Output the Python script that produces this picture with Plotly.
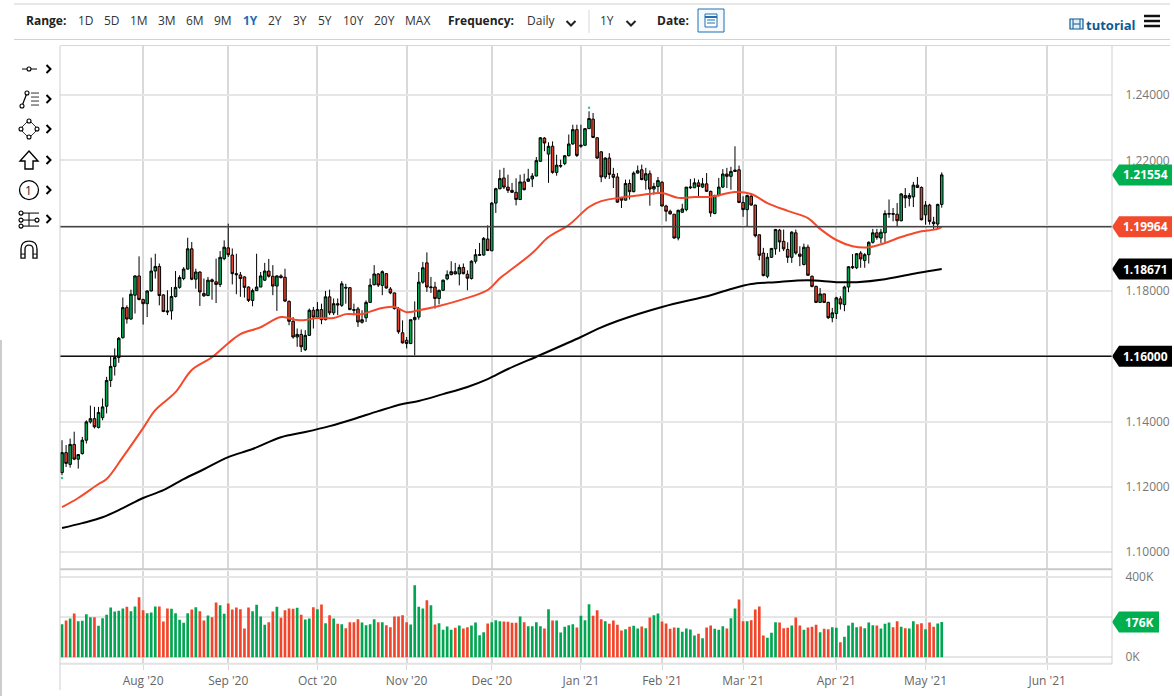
import plotly.graph_objects as go

W, H = 1174, 696
GREEN = "#00a651"
RED = "#e5432a"
TAG_GREEN = "#00b050"
TAG_RED = "#f24a2c"
GRID = "#e6e6e6"
VGRID = "#d9d9d9"
BLUE = "#0b5a94"

# daily candles, one per trading day, Jul 6 2020 .. May 7 2021
opens = [1.1244,1.1305,1.1269,1.1330,1.1285,1.1302,1.1343,1.1399,1.1409,1.1382,
 1.1412,1.1447,1.1526,1.1569,1.1596,1.1657,1.1749,1.1714,1.1787,1.1846,
 1.1774,1.1761,1.1800,1.1861,1.1875,1.1788,1.1739,1.1739,1.1783,1.1811,
 1.1838,1.1867,1.1929,1.1836,1.1858,1.1792,1.1786,1.1834,1.1828,1.1820,
 1.1899,1.1932,1.1910,1.1853,1.1849,1.1843,1.1812,1.1771,1.1801,1.1812,
 1.1833,1.1861,1.1845,1.1815,1.1846,1.1842,1.1768,1.1707,1.1659,1.1667,
 1.1620,1.1664,1.1741,1.1720,1.1743,1.1712,1.1782,1.1733,1.1761,1.1756,
 1.1811,1.1810,1.1743,1.1745,1.1704,1.1718,1.1765,1.1819,1.1852,1.1817,
 1.1853,1.1806,1.1794,1.1746,1.1672,1.1649,1.1639,1.1712,1.1720,1.1827,
 1.1886,1.1810,1.1812,1.1777,1.1802,1.1837,1.1850,1.1859,1.1852,1.1872,
 1.1851,1.1838,1.1891,1.1909,1.1910,1.1959,1.1923,1.2069,1.2113,1.2146,
 1.2118,1.2108,1.2102,1.2080,1.2134,1.2136,1.2143,1.2152,1.2197,1.2268,
 1.2219,1.2243,1.2163,1.2182,1.2190,1.2214,1.2250,1.2294,1.2243,1.2246,
 1.2297,1.2326,1.2269,1.2226,1.2149,1.2207,1.2157,1.2149,1.2086,1.2078,
 1.2129,1.2104,1.2161,1.2171,1.2139,1.2159,1.2112,1.2120,1.2133,1.2060,
 1.2044,1.2035,1.1962,1.2041,1.2049,1.2116,1.2116,1.2131,1.2118,1.2128,
 1.2105,1.2037,1.2092,1.2118,1.2158,1.2151,1.2166,1.2171,1.2071,1.2049,
 1.2090,1.2063,1.1972,1.1916,1.1845,1.1903,1.1929,1.1986,1.1952,1.1927,
 1.1903,1.1978,1.1913,1.1881,1.1934,1.1845,1.1814,1.1765,1.1791,1.1765,
 1.1718,1.1731,1.1776,1.1758,1.1812,1.1871,1.1871,1.1916,1.1893,1.1911,
 1.1949,1.1978,1.1962,1.1978,1.2035,1.2037,1.2035,1.2015,1.2092,1.2084,
 1.2088,1.2124,1.2117,1.2033,1.2063,1.2011,1.2005,1.2065]
closes = [1.1305,1.1272,1.1330,1.1285,1.1299,1.1343,1.1399,1.1409,1.1384,1.1428,
 1.1445,1.1526,1.1569,1.1596,1.1655,1.1749,1.1714,1.1790,1.1846,1.1774,
 1.1761,1.1800,1.1861,1.1875,1.1786,1.1737,1.1736,1.1783,1.1811,1.1841,
 1.1867,1.1929,1.1836,1.1858,1.1797,1.1785,1.1833,1.1829,1.1820,1.1903,
 1.1934,1.1911,1.1853,1.1850,1.1838,1.1811,1.1771,1.1801,1.1812,1.1846,
 1.1861,1.1845,1.1815,1.1846,1.1841,1.1769,1.1707,1.1659,1.1667,1.1629,
 1.1664,1.1741,1.1720,1.1743,1.1712,1.1782,1.1733,1.1761,1.1757,1.1822,
 1.1809,1.1743,1.1741,1.1705,1.1712,1.1765,1.1818,1.1852,1.1818,1.1859,
 1.1809,1.1794,1.1746,1.1675,1.1641,1.1639,1.1712,1.1719,1.1827,1.1871,
 1.1812,1.1812,1.1777,1.1802,1.1833,1.1850,1.1859,1.1852,1.1872,1.1853,
 1.1839,1.1891,1.1911,1.1911,1.1961,1.1924,1.2069,1.2113,1.2144,1.2118,
 1.2108,1.2102,1.2080,1.2134,1.2110,1.2143,1.2152,1.2199,1.2269,1.2253,
 1.2243,1.2163,1.2185,1.2184,1.2214,1.2250,1.2294,1.2215,1.2246,1.2297,
 1.2328,1.2270,1.2207,1.2149,1.2207,1.2157,1.2148,1.2072,1.2078,1.2129,
 1.2104,1.2161,1.2168,1.2141,1.2159,1.2112,1.2120,1.2138,1.2060,1.2044,
 1.2036,1.1962,1.2047,1.2051,1.2118,1.2118,1.2131,1.2120,1.2128,1.2105,
 1.2039,1.2092,1.2118,1.2158,1.2151,1.2166,1.2170,1.2071,1.2049,1.2092,
 1.2063,1.1969,1.1909,1.1847,1.1903,1.1930,1.1988,1.1950,1.1929,1.1903,
 1.1980,1.1916,1.1906,1.1934,1.1848,1.1814,1.1765,1.1791,1.1765,1.1718,
 1.1733,1.1779,1.1760,1.1812,1.1874,1.1874,1.1914,1.1898,1.1911,1.1949,
 1.1978,1.1964,1.1980,1.2037,1.2037,1.2035,1.2015,1.2097,1.2085,1.2092,
 1.2124,1.2117,1.2018,1.2063,1.2013,1.2006,1.2065,1.21554]
highs = [1.1343,1.1328,1.1348,1.1369,1.1300,1.1353,1.1404,1.1449,1.1445,1.1445,
 1.1471,1.1537,1.1600,1.1624,1.1659,1.1780,1.1756,1.1804,1.1848,1.1906,
 1.1776,1.1802,1.1902,1.1914,1.1884,1.1790,1.1802,1.1812,1.1861,1.1848,
 1.1873,1.1963,1.1950,1.1868,1.1860,1.1838,1.1843,1.1838,1.1899,1.1922,
 1.1955,1.2006,1.1930,1.1914,1.1858,1.1845,1.1814,1.1807,1.1914,1.1858,
 1.1886,1.1898,1.1879,1.1848,1.1851,1.1868,1.1771,1.1720,1.1685,1.1682,
 1.1680,1.1746,1.1751,1.1766,1.1761,1.1800,1.1804,1.1777,1.1777,1.1830,
 1.1822,1.1812,1.1761,1.1751,1.1741,1.1771,1.1838,1.1879,1.1855,1.1863,
 1.1855,1.1812,1.1795,1.1751,1.1710,1.1659,1.1712,1.1768,1.1858,1.1889,
 1.1918,1.1843,1.1828,1.1804,1.1835,1.1863,1.1891,1.1886,1.1881,1.1884,
 1.1863,1.1894,1.1928,1.1947,1.1965,1.2001,1.2072,1.2116,1.2171,1.2177,
 1.2156,1.2131,1.2145,1.2156,1.2159,1.2174,1.2161,1.2210,1.2271,1.2271,
 1.2255,1.2258,1.2217,1.2202,1.2216,1.2279,1.2309,1.2309,1.2309,1.2299,
 1.2350,1.2345,1.2271,1.2228,1.2209,1.2222,1.2177,1.2161,1.2088,1.2141,
 1.2141,1.2166,1.2184,1.2187,1.2177,1.2169,1.2131,1.2149,1.2136,1.2064,
 1.2049,1.2035,1.2049,1.2067,1.2118,1.2143,1.2145,1.2141,1.2146,1.2161,
 1.2107,1.2095,1.2146,1.2173,1.2177,1.2180,1.2243,1.2184,1.2090,1.2095,
 1.2100,1.2064,1.1973,1.1932,1.1916,1.1932,1.1990,1.1990,1.1988,1.1949,
 1.1983,1.1988,1.1937,1.1945,1.1942,1.1847,1.1816,1.1809,1.1792,1.1767,
 1.1748,1.1782,1.1784,1.1816,1.1876,1.1913,1.1916,1.1922,1.1916,1.1952,
 1.1990,1.1990,1.1990,1.2047,1.2080,1.2054,1.2069,1.2100,1.2115,1.2100,
 1.2134,1.2149,1.2120,1.2075,1.2067,1.2027,1.2067,1.2163]
lows = [1.1236,1.1261,1.1259,1.1282,1.1256,1.1299,1.1333,1.1394,1.1379,1.1379,
 1.1404,1.1425,1.1506,1.1541,1.1580,1.1654,1.1700,1.1712,1.1731,1.1771,
 1.1697,1.1720,1.1798,1.1838,1.1756,1.1735,1.1726,1.1712,1.1780,1.1807,
 1.1833,1.1865,1.1833,1.1807,1.1754,1.1782,1.1784,1.1773,1.1763,1.1812,
 1.1894,1.1904,1.1820,1.1790,1.1782,1.1780,1.1766,1.1753,1.1800,1.1812,
 1.1831,1.1841,1.1787,1.1739,1.1838,1.1766,1.1695,1.1654,1.1629,1.1613,
 1.1616,1.1662,1.1685,1.1715,1.1698,1.1710,1.1726,1.1726,1.1726,1.1751,
 1.1761,1.1741,1.1726,1.1690,1.1700,1.1705,1.1763,1.1817,1.1812,1.1787,
 1.1807,1.1790,1.1743,1.1669,1.1639,1.1624,1.1637,1.1603,1.1712,1.1822,
 1.1797,1.1794,1.1746,1.1759,1.1800,1.1833,1.1848,1.1851,1.1817,1.1851,
 1.1802,1.1835,1.1884,1.1908,1.1908,1.1922,1.1922,1.2039,1.2111,1.2112,
 1.2100,1.2100,1.2062,1.2078,1.2108,1.2134,1.2118,1.2151,1.2195,1.2228,
 1.2131,1.2159,1.2153,1.2177,1.2185,1.2212,1.2248,1.2210,1.2238,1.2245,
 1.2296,1.2268,1.2204,1.2133,1.2143,1.2143,1.2115,1.2070,1.2054,1.2077,
 1.2080,1.2102,1.2159,1.2139,1.2110,1.2061,1.2095,1.2100,1.2059,1.2013,
 1.2034,1.1960,1.1955,1.2039,1.2044,1.2112,1.2115,1.2085,1.2115,1.2103,
 1.2027,1.2035,1.2090,1.2115,1.2115,1.2110,1.2164,1.2069,1.2027,1.1996,
 1.2061,1.1964,1.1894,1.1845,1.1839,1.1901,1.1911,1.1920,1.1922,1.1886,
 1.1886,1.1911,1.1876,1.1878,1.1847,1.1811,1.1763,1.1763,1.1763,1.1714,
 1.1704,1.1714,1.1743,1.1738,1.1796,1.1867,1.1867,1.1871,1.1871,1.1884,
 1.1945,1.1957,1.1947,1.1945,1.2024,1.2013,1.1996,1.2013,1.2054,1.2059,
 1.2057,1.2115,1.2016,1.2003,1.2003,1.1988,1.1990,1.2055]
# volume in thousands
volumes = [165,183,193,218,180,182,215,200,200,157,
 195,212,248,228,232,243,252,230,253,300,
 235,220,223,253,253,178,243,242,220,187,
 172,220,238,250,230,183,208,200,273,260,
 217,268,238,248,240,143,248,230,262,203,
 162,175,228,252,197,235,243,242,247,212,
 188,193,250,240,263,170,210,193,167,165,
 145,175,175,190,173,160,165,190,175,175,
 160,150,203,203,210,175,163,360,252,243,
 285,260,163,170,137,153,137,147,158,143,
 150,158,173,110,125,168,175,185,180,
 178,177,172,172,203,175,155,155,175,155,
 143,240,183,183,123,152,160,165,148,207,
 185,265,207,235,190,180,167,183,162,133,
 140,152,157,143,153,145,198,210,218,178,
 168,142,148,147,127,143,138,108,117,95,
 148,158,142,137,155,143,195,243,288,180,
 180,185,238,253,108,97,122,175,173,145,
 147,158,198,158,137,148,152,162,125,142,
 140,150,147,75,102,158,172,150,153,145,
 173,160,158,143,167,173,150,180,152,145,
 143,180,165,170,140,173,152,168,176]

# moving averages read at a set of trading days
ma50_days = [0,4,9,11,15,20,23,28,32,37,41,44,49,54,58,60,63,67,70,74,78,82,85,88,93,99,105,108,110,116,120,125,130,133,139,143,148,152,156,160,166,170,174,179,184,187,191,195,199,203,207,211,216,217]
ma50 = [1.1138,1.1166,1.1209,1.1224,1.1291,1.1380,1.1435,1.1490,1.1558,1.1597,1.1640,1.1668,1.1689,1.1720,1.1711,1.1711,1.1717,1.1717,1.1729,1.1729,1.1745,1.1751,1.1735,1.1741,1.1754,1.1775,1.1803,1.1839,1.1858,1.1916,1.1965,1.2002,1.2057,1.2075,1.2088,1.2094,1.2100,1.2085,1.2088,1.2088,1.2103,1.2097,1.2069,1.2045,1.2023,1.1990,1.1956,1.1937,1.1934,1.1947,1.1965,1.1980,1.1990,1.19964]
ma200_days = [0,5,10,15,20,25,30,35,41,47,54,60,66,72,78,84,88,94,100,105,110,118,128,132,137,148,160,165,170,176,184,191,196,203,211,217]
ma200 = [1.1074,1.1089,1.1107,1.1135,1.1166,1.1190,1.1224,1.1254,1.1291,1.1316,1.1352,1.1368,1.1386,1.1408,1.1432,1.1454,1.1463,1.1484,1.1506,1.1530,1.1561,1.1604,1.1659,1.1683,1.1708,1.1751,1.1787,1.1806,1.1821,1.1827,1.1833,1.1827,1.1827,1.1836,1.1855,1.18671]

month_days = [20,41,63,85,106,128,148,168,191,213,243]
month_labels = ["Aug '20","Sep '20","Oct '20","Nov '20","Dec '20","Jan '21","Feb '21","Mar '21","Apr '21","May '21","Jun '21"]
price_ticks = [1.10,1.12,1.14,1.16,1.18,1.20,1.22,1.24]
# the 1.16 and 1.20 labels sit behind the flags in the original
price_labels = ["1.10000","1.12000","1.14000","","1.18000","","1.22000","1.24000"]

# small teal marks on the first bar and the top bar
mark_days = [0,130]
mark_prices = [1.1227,1.2361]

days = list(range(len(opens)))
vol_colors = [GREEN if c >= o else "#f2462c" for o, c in zip(opens, closes)]


def px(x):
    return x / W


def py(y):
    # small correction, the first render came out squeezed towards the bottom
    return 1 - ((y - 3) / 0.9939) / H


def line_shape(x0, y0, x1, y1, color="#000000", width=1):
    return dict(type="line", xref="paper", yref="paper", x0=px(x0), y0=py(y0), x1=px(x1), y1=py(y1),
                line=dict(color=color, width=width), layer="above")


def poly(points, close=False, color="#000000", width=1.2, fill=None):
    d = "M " + " L ".join(f"{px(a):.5f},{py(b):.5f}" for a, b in points)
    if close:
        d += " Z"
    s = dict(type="path", xref="paper", yref="paper", path=d, line=dict(color=color, width=width))
    if fill:
        s["fillcolor"] = fill
    return s


def ring(cx, cy, r, color="#000000", width=1.1, fill="#ffffff"):
    return dict(type="circle", xref="paper", yref="paper", x0=px(cx - r), x1=px(cx + r), y0=py(cy - r), y1=py(cy + r),
                line=dict(color=color, width=width), fillcolor=fill)


def label(x, y, text, size=12, color="#333333", anchor="left", bold=False):
    # annotations pad their text by about 2px
    x = x - 2 if anchor == "left" else x
    return dict(x=px(x), y=py(y), xref="paper", yref="paper", text=f"<b>{text}</b>" if bold else text,
                showarrow=False, xanchor=anchor, yanchor="middle",
                font=dict(family="Open Sans", size=size, color=color))


def tag(value, yref, text, color, right=58):
    # price flag on the right axis, anchored at its value
    s = dict(type="path", xref="paper", yref=yref, xsizemode="pixel", ysizemode="pixel", xanchor=px(1112), yanchor=value,
             path=f"M 0,0 L 7,-10.5 L {right},-10.5 L {right},10.5 L 7,10.5 Z", fillcolor=color, line=dict(color=color, width=0), layer="above")
    a = dict(x=px(1112 + (right + 7) / 2), y=value, xref="paper", yref=yref, text=f"<b>{text}</b>", showarrow=False,
             xanchor="center", yanchor="middle", font=dict(family="Open Sans", size=12, color="#ffffff"))
    return s, a


fig = go.Figure()
fig.add_trace(go.Candlestick(x=days, open=opens, high=highs, low=lows, close=closes, xaxis="x", yaxis="y",
                             whiskerwidth=0, showlegend=False,
                             increasing=dict(fillcolor=GREEN, line=dict(color="#000000", width=1)),
                             decreasing=dict(fillcolor=RED, line=dict(color="#000000", width=1))))
fig.add_trace(go.Scatter(x=ma50_days, y=ma50, mode="lines", xaxis="x", yaxis="y", showlegend=False,
                         line=dict(color="#f4492b", width=2, shape="spline", smoothing=1)))
fig.add_trace(go.Scatter(x=ma200_days, y=ma200, mode="lines", xaxis="x", yaxis="y", showlegend=False,
                         line=dict(color="#000000", width=2, shape="spline", smoothing=1)))
fig.add_trace(go.Scatter(x=mark_days, y=mark_prices, mode="markers", xaxis="x", yaxis="y", showlegend=False,
                         marker=dict(color="#35c98a", size=2.5)))
fig.add_trace(go.Bar(x=days, y=volumes, xaxis="x2", yaxis="y2", marker=dict(color=vol_colors, line=dict(width=0)),
                     showlegend=False))

shapes = []
annotations = []

# levels drawn across the price pane
for level, col in [(1.19964, "#444444"), (1.16, "#111111")]:
    shapes.append(dict(type="line", xref="paper", yref="y", x0=px(60), x1=px(1112), y0=level, y1=level,
                       line=dict(color=col, width=1.4), layer="above"))

# price and volume flags
for value, yref, text, col, right in [(1.21554, "y", "1.21554", TAG_GREEN, 60), (1.19964, "y", "1.19964", TAG_RED, 60),
                                      (1.18671, "y", "1.18671", "#000000", 60), (1.16, "y", "1.16000", "#000000", 60),
                                      (176, "y2", "176K", TAG_GREEN, 47)]:
    s, a = tag(value, yref, text, col, right)
    shapes.append(s)
    annotations.append(a)

# frame lines
shapes += [line_shape(14, 4, 1170, 4, "#d2d2d2", 1), line_shape(14, 39.5, 1170, 39.5, "#d2d2d2", 1),
           line_shape(60, 45.5, 1170, 45.5, "#d8d8d8", 1), line_shape(60, 569, 1112, 569, "#c9c9c9", 2),
           line_shape(60, 663.5, 1112, 663.5, "#e2e2e2", 2), line_shape(60, 46, 60, 690, "#cfcfcf", 1),
           line_shape(1112, 46, 1112, 664, "#cfcfcf", 1), line_shape(1, 340, 1, 696, "#cccccc", 2)]

# toolbar text
for x, t in [(78, "1D"), (104, "5D"), (130, "1M"), (158, "3M"), (186, "6M"), (214, "9M"), (268, "2Y"), (293, "3Y"),
             (318, "5Y"), (343, "10Y"), (374, "20Y"), (405, "MAX"), (527, "Daily"), (600, "1Y")]:
    annotations.append(label(x, 20.5, t, 12, "#333333"))
annotations.append(label(243, 20.5, "1Y", 12, "#1b6db5", bold=True))
for x, t in [(26, "Range:"), (448, "Frequency:"), (657, "Date:")]:
    annotations.append(label(x, 20.5, t, 12, "#222222", bold=True))
annotations.append(label(1086, 24.5, "tutorial", 13, BLUE, bold=True))

# dropdown chevrons and divider
for cx in (571, 631):
    shapes.append(poly([(cx - 4.5, 21), (cx, 25.5), (cx + 4.5, 21)], width=2, color="#222222"))
shapes.append(line_shape(589, 10, 589, 33, "#d8d8d8", 1))

# calendar button
shapes.append(dict(type="rect", xref="paper", yref="paper", x0=px(698), x1=px(724), y0=py(32), y1=py(9),
                   line=dict(color="#1f6fb2", width=1), fillcolor="#f4f9fd"))
shapes.append(dict(type="rect", xref="paper", yref="paper", x0=px(705), x1=px(717), y0=py(27), y1=py(14),
                   line=dict(color="#1f6fb2", width=1), fillcolor="#ffffff"))
shapes.append(line_shape(705, 17, 717, 17, "#1f6fb2", 2))
for a_y in (20, 23):
    shapes.append(line_shape(707, a_y, 715, a_y, "#1f6fb2", 1))

# tutorial film icon
shapes.append(dict(type="rect", xref="paper", yref="paper", x0=px(1070), x1=px(1083), y0=py(29), y1=py(19),
                   line=dict(color=BLUE, width=1.2), fillcolor="#e3eef6"))
for fx in (1073, 1080):
    shapes.append(line_shape(fx, 19, fx, 29, BLUE, 1))
shapes.append(line_shape(1073, 24, 1080, 24, BLUE, 1))

# hamburger
for hy in (16, 21, 26):
    shapes.append(line_shape(1144, hy, 1160, hy, "#111111", 2.5))

# left drawing tools: chevrons
for cy in (69, 99, 129, 160, 190, 219, 250):
    if cy != 250:
        shapes.append(poly([(46.5, cy - 4), (50.5, cy), (46.5, cy + 4)], width=2))

# line tool
shapes.append(line_shape(22, 69, 37, 69))
shapes.append(ring(29, 69, 2))
# fib tool
shapes.append(poly([(22, 106), (27, 93)]))
shapes += [ring(22, 106, 2), ring(27, 93, 2)]
for fy in (93, 97, 101, 105):
    shapes.append(line_shape(31, fy, 39, fy, "#333333", 1))
# shape tool
shapes.append(poly([(29, 120), (38, 129), (29, 138), (20, 129)], close=True, width=0.8))
for cx, cy in [(29, 121), (37, 129), (29, 137), (21, 129)]:
    shapes.append(ring(cx, cy, 2))
# arrow tool
shapes.append(poly([(29, 151), (38, 161), (33, 161), (33, 169), (25, 169), (25, 161), (20, 161)], close=True, width=1.4))
# number tool
shapes.append(ring(29, 190, 9.5, width=1.3))
annotations.append(label(29, 190.5, "1", 12, "#222222", anchor="center"))
# fork tool
shapes += [line_shape(21, 213, 39, 213), line_shape(21, 220, 39, 220), line_shape(21, 226, 39, 226),
           line_shape(29, 213, 29, 226)]
for cx, cy in [(21, 213), (21, 220), (21, 226), (37, 220)]:
    shapes.append(ring(cx, cy, 2))
# magnet
shapes.append(dict(type="path", xref="paper", yref="paper", line=dict(color="#111111", width=1.4),
                   path=(f"M {px(21)},{py(258)} L {px(21)},{py(249)} Q {px(21)},{py(241)} {px(29)},{py(241)} "
                         f"Q {px(37)},{py(241)} {px(37)},{py(249)} L {px(37)},{py(258)} L {px(33)},{py(258)} "
                         f"L {px(33)},{py(249)} Q {px(33)},{py(245)} {px(29)},{py(245)} Q {px(25)},{py(245)} {px(25)},{py(249)} "
                         f"L {px(25)},{py(258)} Z")))
shapes += [line_shape(21, 254, 25, 254, "#111111", 1), line_shape(33, 254, 37, 254, "#111111", 1)]

fig.update_layout(
    width=W, height=H, autosize=False, margin=dict(l=0, r=0, t=0, b=0),
    paper_bgcolor="#ffffff", plot_bgcolor="#ffffff", bargap=0.34, boxgap=0.3, boxgroupgap=0.1,
    font=dict(family="Open Sans", size=12, color="#777777"),
    shapes=shapes, annotations=annotations, hovermode=False,
    xaxis=dict(domain=[px(60), px(1112)], range=[-0.5, 259], anchor="y", rangeslider=dict(visible=False),
               tickvals=month_days, ticktext=[""] * len(month_days), showgrid=True, gridcolor=VGRID, gridwidth=1.5,
               zeroline=False, ticks="", showline=False),
    yaxis=dict(domain=[py(569), py(46)], range=[1.0948, 1.2550], anchor="x", side="right", position=px(1112),
               tickvals=price_ticks, ticktext=price_labels, showgrid=True, gridcolor=GRID, gridwidth=2, zeroline=False,
               ticks="outside", ticklen=10, tickcolor="#ffffff", tickfont=dict(color="#777777", size=12), showline=False),
    xaxis2=dict(domain=[px(60), px(1112)], range=[-0.5, 259], anchor="y2", tickvals=month_days, ticktext=month_labels,
                showgrid=True, gridcolor=VGRID, gridwidth=1.5, zeroline=False, ticks="outside", ticklen=5,
                tickcolor=VGRID, tickfont=dict(color="#666666", size=12), showline=False),
    yaxis2=dict(domain=[py(664), py(571)], range=[-35, 430], anchor="x2", side="right", tickvals=[0, 200, 400],
                ticktext=["0K", "", "400K"], showgrid=True, gridcolor=GRID, gridwidth=2, zeroline=False,
                ticks="outside", ticklen=10, tickcolor="#ffffff", tickfont=dict(color="#777777", size=12), showline=False),
)

fig.write_html("out.html", config=dict(displayModeBar=False),
               post_script="document.body.style.margin='0';")
